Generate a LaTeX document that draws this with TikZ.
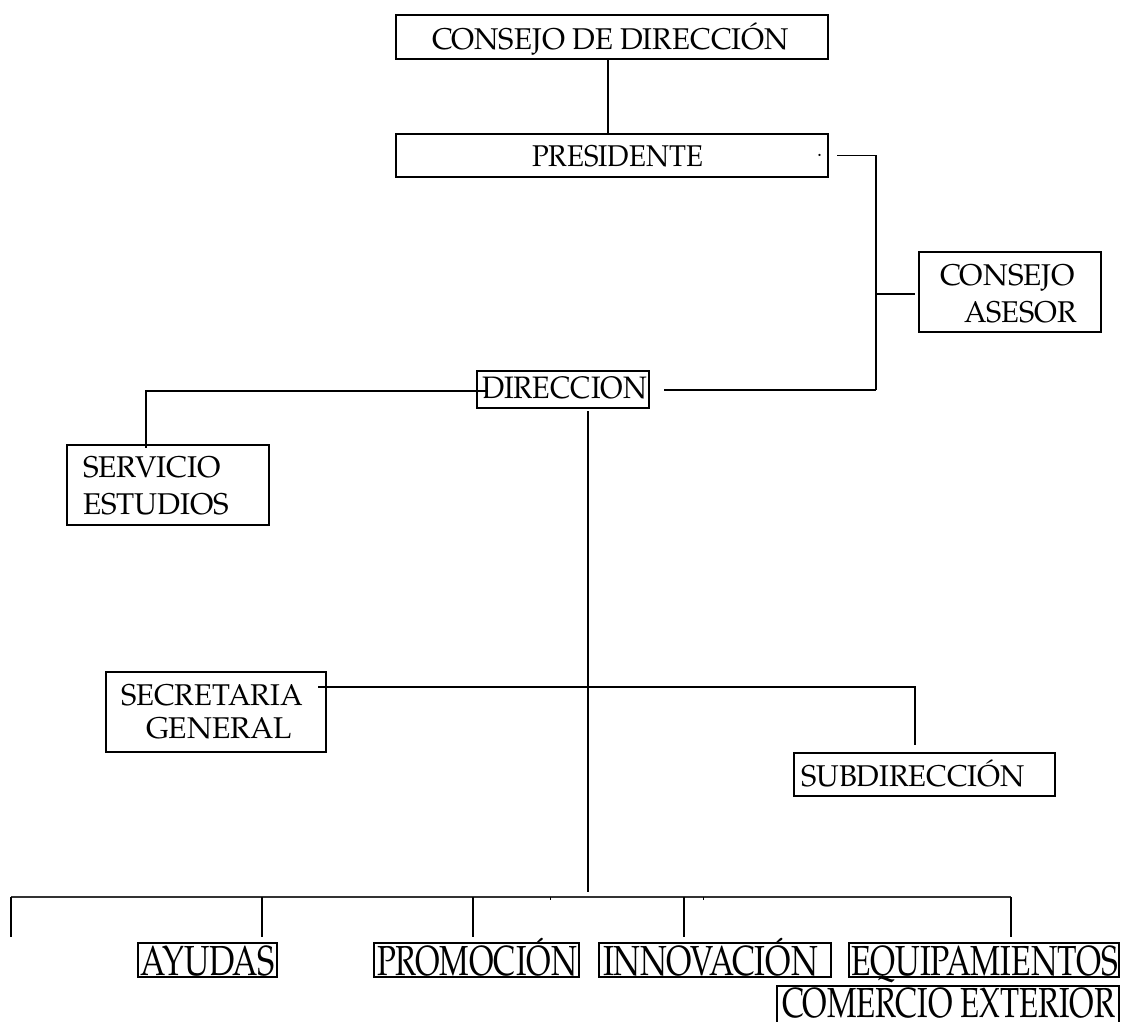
\documentclass[tikz,border=0pt]{standalone}
\usepackage{fontspec}
\setmainfont{TeX Gyre Pagella}
\usepackage{graphicx}
\newcommand\ftx[3]{\resizebox{#1pt}{\height}{\fontsize{#2pt}{#2pt}\selectfont #3}}
\tikzset{
  box/.style={draw, line width=1.8pt, inner sep=0pt, outer sep=0pt},
  txt/.style={inner sep=0pt, outer sep=0pt, anchor=base west},
  conn/.style={line width=1.3pt},
  bus/.style={line width=1.3pt, draw=black!80}
}
\begin{document}
\begin{tikzpicture}[x=1pt,y=-1pt]
\useasboundingbox (0,0) rectangle (1125,1022);
% boxes
\node[box, minimum width=432pt, minimum height=44pt] (cd) at (612,37) {};
\node[box, minimum width=432pt, minimum height=43pt] (pres) at (612,155.5) {};
\node[box, minimum width=182pt, minimum height=80pt] (ase) at (1010,292) {};
\node[box, minimum width=172pt, minimum height=37pt] (dir) at (563,389.5) {};
\node[box, minimum width=202pt, minimum height=80pt] (serv) at (168,485) {};
\node[box, minimum width=220pt, minimum height=80pt] (sec) at (216,712) {};
\node[box, minimum width=261pt, minimum height=43pt] (sub) at (924.5,774.5) {};
\node[box, minimum width=139pt, minimum height=34pt] (ayu) at (207.5,960) {};
\node[box, minimum width=205pt, minimum height=34pt] (pro) at (476.5,960) {};
\node[box, minimum width=232pt, minimum height=34pt] (inn) at (715,960) {};
\node[box, minimum width=270pt, minimum height=34pt] (equ) at (984,960) {};
\node[box, minimum width=342pt, minimum height=54pt] (com) at (948,1013) {};
% texts
\node[txt] (cdt) at (432,50) {\ftx{357}{30}{CONSEJO DE DIRECCIÓN}};
\node[txt] (prest) at (532,167) {\ftx{171}{30}{PRESIDENTE}};
\node[txt] (dot) at (817,157) {\fontsize{20pt}{20pt}\selectfont .};
\node[txt] (aset1) at (940,285) {\ftx{135}{30}{CONSEJO}};
\node[txt] (aset2) at (964,322) {\ftx{113}{30}{ASESOR}};
\node[txt] (dirt) at (482,398) {\ftx{165}{31}{DIRECCION}};
\node[txt] (servt1) at (83,477) {\ftx{138}{30}{SERVICIO}};
\node[txt] (servt2) at (83,514) {\ftx{146}{30}{ESTUDIOS}};
\node[txt] (sect1) at (121,705) {\ftx{182}{30}{SECRETARIA}};
\node[txt] (sect2) at (146,738) {\ftx{146}{30}{GENERAL}};
\node[txt] (subt) at (801,786) {\ftx{224}{30}{SUBDIRECCIÓN}};
\node[txt] (ayut) at (140,975) {\ftx{135}{42}{AYUDAS}};
\node[txt] (prot) at (377,975) {\ftx{200}{42}{PROMOCIÓN}};
\node[txt] (innt) at (603,975) {\ftx{215}{42}{INNOVACIÓN}};
\node[txt] (equt) at (851,975) {\ftx{267}{42}{EQUIPAMIENTOS}};
\node[txt] (comt) at (782,1017) {\ftx{333}{42}{COMERCIO EXTERIOR}};
% junction coordinates
\coordinate (pj) at (876,155.5);
\coordinate (dj) at (876,390);
\coordinate (aj) at (876,294);
\coordinate (sj) at (146,391);
\coordinate (m2) at (588,892);
\coordinate (sj2) at (915,687);
\coordinate (b0) at (11,897);
\coordinate (b1) at (262,897);
\coordinate (b2) at (473,897);
\coordinate (b3) at (684,897);
\coordinate (b4) at (1011,897);
% connectors
\draw[conn] ([xshift=-4pt]cd.south) -- ([xshift=-4pt]pres.north);
\draw[conn] ([xshift=9pt]pres.east) -- (pj) -- (dj);
\draw[conn] ([xshift=15pt,yshift=-0.5pt]dir.east) -- (dj);
\draw[conn] (aj) -- ([xshift=-4pt,yshift=-2pt]ase.west);
\draw[conn] ([xshift=11pt,yshift=-1.5pt]dir.west) -- (sj) -- ([yshift=-3pt]serv.north -| sj);
\draw[conn] ([yshift=-3pt]dir.south -| m2) -- (m2);
\draw[conn] ([xshift=-8pt,yshift=25pt]sec.east) -- (sj2) -- ([yshift=8pt]sub.north -| sj2);
\draw[bus] (b0) -- (b4);
\draw[conn] (b0) -- ++(0,40);
\draw[conn] (b1) -- ([yshift=6pt]ayu.north -| b1);
\draw[conn] (b2) -- ([yshift=6pt]pro.north -| b2);
\draw[conn] (b3) -- ([yshift=6pt]inn.north -| b3);
\draw[conn] (b4) -- ([yshift=6pt]equ.north -| b4);
\draw[line width=0.8pt] (550,897) -- ++(0,3);
\draw[line width=0.8pt] (703,897) -- ++(0,3);
\end{tikzpicture}
\end{document}
